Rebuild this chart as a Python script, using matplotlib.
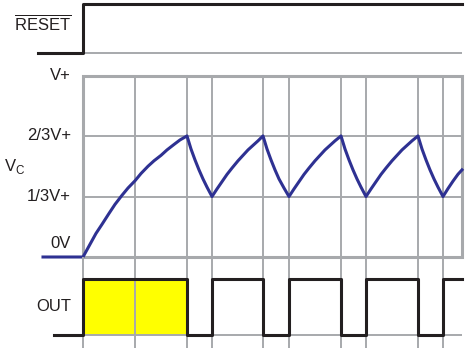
import matplotlib.pyplot as plt

plt.rcParams['font.family'] = ['Liberation Sans', 'DejaVu Sans']
plt.rcParams['mathtext.fontset'] = 'custom'
plt.rcParams['mathtext.rm'] = 'Liberation Sans'

# time axis (arbitrary units), 0 = reset released
t_end = 379
grid_t = [0, 52, 104, 129, 180, 206, 258, 283, 335, 360]

reset_t = [-45, 0, t_end]
reset_v = [0, 1, 1]

# capacitor voltage, fraction of V+
vc_t = [-40, 0, 6, 13, 19, 26, 32, 39, 45, 52, 58, 65, 71, 78, 84, 91, 97, 104,
        108, 112, 116, 120, 124, 129,
        134, 139, 144, 149, 155, 160, 165, 170, 175, 180,
        184, 188, 192, 196, 201, 206,
        211, 216, 221, 226, 232, 237, 242, 247, 252, 258,
        262, 266, 270, 274, 278, 283,
        288, 293, 298, 303, 309, 314, 319, 324, 329, 335,
        339, 343, 347, 351, 355, 360,
        365, 370, 375, 379]
vc_v = [0, 0, 0.06, 0.13, 0.18, 0.24, 0.29, 0.34, 0.38, 0.42, 0.46, 0.50,
        0.53, 0.56, 0.59, 0.62, 0.645, 0.667,
        0.595, 0.535, 0.48, 0.43, 0.385, 0.333,
        0.375, 0.415, 0.455, 0.49, 0.53, 0.56, 0.59, 0.615, 0.64, 0.667,
        0.595, 0.535, 0.48, 0.43, 0.38, 0.333,
        0.375, 0.415, 0.455, 0.49, 0.53, 0.56, 0.59, 0.615, 0.64, 0.667,
        0.595, 0.535, 0.48, 0.43, 0.385, 0.333,
        0.375, 0.415, 0.455, 0.49, 0.53, 0.56, 0.59, 0.615, 0.64, 0.667,
        0.595, 0.535, 0.48, 0.43, 0.385, 0.333,
        0.377, 0.418, 0.456, 0.48]
vc_levels = [0, 1/3, 2/3, 1]
vc_labels = ['0V', '1/3V+', '2/3V+', 'V+']

out_t = [-29, 0, 104, 129, 180, 206, 258, 283, 335, 360, t_end]
out_v = [0, 1, 0, 1, 0, 1, 0, 1, 0, 1, 1]

GRAY = '#A7A9AC'
BLUE = '#2E3192'
INK = '#231F20'
W, H = 467, 348

fig = plt.figure(figsize=(W / 100, H / 100), dpi=100)


def panel(top, bottom, ylim):
    ax = fig.add_axes([0, 1 - bottom / H, 1, (bottom - top) / H])
    ax.set_xlim(-83, W - 83)
    ax.set_ylim(*ylim)
    ax.axis('off')
    return ax


# RESET
ax_r = panel(4, 53, (0, 1))
ax_r.hlines(0, 0, t_end, color=GRAY, lw=1.4, clip_on=False)
ax_r.plot(reset_t, reset_v, drawstyle='steps-post', color=INK, lw=2.2,
          clip_on=False, zorder=3)
ax_r.text(-12, 0.6, r'$\overline{\mathregular{RESET}}$', ha='right',
          va='center', fontsize=12, color=INK)

# capacitor voltage
ax_v = panel(75.5, 257, (0, 1))
ax_v.hlines(vc_levels[1:3], 0, t_end, color=GRAY, lw=1.4, zorder=1)
ax_v.vlines(grid_t[1:], 0, 1, color=GRAY, lw=1.4, zorder=1)
ax_v.plot([0, t_end, t_end, 0, 0], [0, 0, 1, 1, 0], color=GRAY, lw=2.2,
          solid_joinstyle='miter', clip_on=False, zorder=1)
ax_v.plot(vc_t, vc_v, color=BLUE, lw=2.2, clip_on=False, zorder=3)
for lev, lab in zip(vc_levels, vc_labels):
    y = 0.077 if lev == 0 else lev
    ax_v.text(-12, y, lab, ha='right', va='center', fontsize=12, color=INK)
ax_v.text(-79, 0.5, r'V$_{\mathregular{C}}$', ha='left', va='center',
          fontsize=12, color=INK)

# output
lo = -(348 - 335) / (335 - 278.7)
hi = 1 + (278.7 - 257) / (335 - 278.7)
ax_o = panel(257, 348, (lo, hi))
ax_o.fill_between(out_t[1:3], 0, 1, color='#FFFF00', lw=0, zorder=0)
for t in grid_t:
    ax_o.axvline(t, color=GRAY, lw=1.4, zorder=1)
ax_o.hlines(0, 0, t_end, color=GRAY, lw=1.4, zorder=1)
ax_o.plot(out_t, out_v, drawstyle='steps-post', color=INK, lw=2.2,
          clip_on=False, zorder=3)
ax_o.text(-12, 0.5, 'OUT', ha='right', va='center', fontsize=12, color=INK)

fig.savefig('out.png', dpi=100)
